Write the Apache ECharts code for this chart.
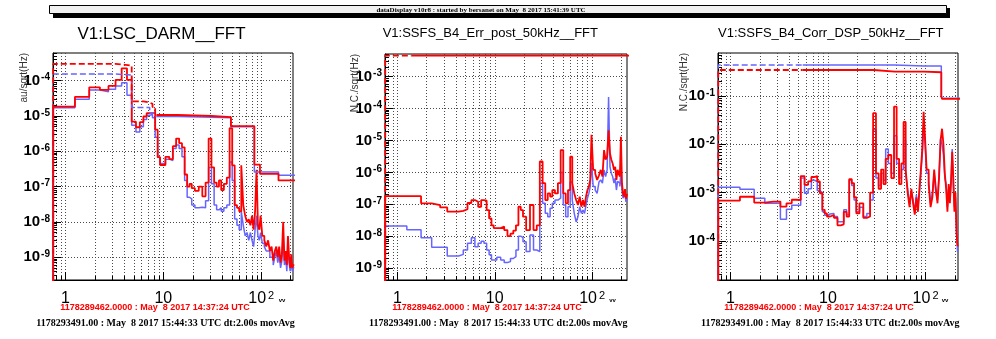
<!DOCTYPE html>
<html><head><meta charset="utf-8">
<script src="https://cdn.jsdelivr.net/npm/echarts@6/dist/echarts.min.js"></script>
<style>html,body{margin:0;padding:0;background:#fff}#c{width:996px;height:339px}</style>
</head><body><div id="c"></div>
<script>
// ---- frequency bins (Hz) shared by all spectra ----
const freqs = [0.5,1,1.5,2,2.5,3,3.5,4,4.5,5,
  5.5,6,6.5,7,7.5,8,8.5,9,9.5,10,
  11,12,13,14,15,16,17,18,19,20,
  22,24,26,28,30,32,34,36,38,40,
  43,46,49,52,55,58,61,64,67,70,
  73,76,79,82,85,88,91,94,97,100,
  105,110,115,120,125,130,135,140,145,150,
  155,160,165,170,175,180,185,190,195,200,
  205,210,215,220,225,230];

// ---- V1:LSC_DARM__FFT (au/sqrt(Hz)) ----
const darmRed = [1e-12,1.84e-5,3.5e-5,6.5e-5,5.5e-5,7.1e-5,1.05e-4,2.25e-4,1.05e-4,6.9e-6,
  4.8e-6,6.7e-6,9.7e-6,1.2e-5,1.2e-5,1.2e-5,4.1e-6,6.8e-7,4.1e-7,4.1e-7,
  7e-7,6e-7,1.4e-6,2.3e-6,1.7e-6,1.3e-6,2.2e-7,1e-7,1.2e-7,9e-8,
  7.6e-8,1e-7,5.3e-8,1.3e-7,2.3e-6,3.5e-7,1.3e-7,1e-7,1.5e-7,8e-8,
  1.2e-7,1.8e-7,4.5e-6,4e-7,3e-8,2.5e-8,2e-8,4e-7,3e-8,1.5e-8,
  1e-8,1.2e-8,8e-9,1.5e-8,6e-9,2e-8,3e-7,8e-9,6e-9,1.5e-8,
  4e-9,3e-9,2e-9,3e-9,1.5e-9,2e-9,8e-10,1.5e-9,2e-9,1e-9,
  2e-9,7e-10,1.2e-9,1e-8,8e-10,1.5e-9,6e-10,4e-9,1e-9,5e-10,
  1.2e-9,5e-10,6e-10];
const darmBlue = [1e-12,1.72e-5,3.0e-5,5.45e-5,4.9e-5,5.7e-5,7.1e-5,8.8e-5,3.9e-5,5.5e-6,
  3.5e-6,5e-6,8e-6,1.05e-5,1.1e-5,9e-6,2.5e-6,6.8e-7,4.5e-7,4.5e-7,
  6e-7,5.5e-7,1.2e-6,1.5e-6,1.2e-6,7e-7,1.5e-7,5e-8,4.5e-8,3e-8,
  2.5e-8,2.6e-8,2.5e-8,4e-8,3.5e-7,1.2e-7,3e-8,2.2e-8,2.5e-8,2e-8,
  2.5e-8,3e-8,5e-7,1.5e-7,1.2e-8,8e-9,6e-9,2e-8,8e-9,4e-9,
  5e-9,3e-9,5e-9,3e-9,2e-9,6e-9,1.5e-8,4e-9,3e-9,5e-9,
  2.5e-9,2e-9,1.5e-9,1.5e-9,1e-9,1e-9,6e-10,1e-9,1.5e-9,7e-10,
  1.2e-9,5e-10,8e-10,4e-9,6e-10,1e-9,4e-10,2e-9,7e-10,4e-10,
  8e-10,4e-10,5e-10];
const darmRmsFreq = [0.5,0.75,3.25,4.75,6.25,7.25,7.75,8.25,14,31,49,85,97,150,240];
const darmRmsRed  = [1e-12,3.0e-4,2.7e-4,2.6e-5,2.4e-5,2.2e-5,1.8e-5,1.07e-5,1.0e-5,9.3e-6,5.2e-6,4.2e-7,2.3e-7,1.5e-7,1.5e-7];
const darmRmsBlue = [1e-12,1.55e-4,1.45e-4,1.75e-5,1.75e-5,1.2e-5,1.2e-5,9.7e-6,9.3e-6,9.0e-6,5.0e-6,2.6e-7,2.6e-7,2.1e-7,2.1e-7];

// ---- V1:SSFS_B4_Err_post_50kHz__FFT (N.C./sqrt(Hz)) ----
const errRed = [1e-12,1.8e-7,1.8e-7,1.07e-7,9.5e-8,8e-8,5.9e-8,5.9e-8,6.2e-8,7e-8,
  1.1e-7,1.36e-7,1.2e-7,8.4e-8,1.36e-7,1.3e-7,6.6e-8,3.6e-8,2.2e-8,1.8e-8,
  1.8e-8,2e-8,1.56e-8,1e-8,1.2e-8,1.5e-8,2.2e-8,8.4e-8,6.6e-8,4.1e-8,
  1.56e-8,9.5e-8,1.56e-8,2.2e-8,2.2e-6,4.6e-7,1.36e-7,2.2e-7,1.75e-7,2.8e-7,
  2.2e-7,4.6e-7,5e-6,2.2e-7,1.07e-7,2.8e-7,3.1e-6,4.6e-7,2.2e-7,1.36e-7,
  9.5e-8,1.75e-7,8.4e-8,1.36e-7,8.4e-8,1.75e-7,2.8e-7,3.6e-7,5.8e-7,1.5e-5,
  1.2e-6,9.3e-7,5.8e-7,8e-7,1.2e-6,7.4e-7,5e-6,2.5e-6,3.1e-6,2.1e-5,
  3.9e-6,2.5e-6,1.9e-6,1.2e-6,1.5e-6,5.8e-7,1.2e-6,9.3e-7,7.4e-7,1.3e-5,
  4.6e-7,2.2e-7,1.75e-7,3e-7,1.5e-7,2e-7];
const errBlue = [1e-12,2.1e-8,1.6e-8,9e-9,4.5e-9,4.5e-9,2.4e-9,2.4e-9,2.7e-9,3.7e-9,
  6e-9,9e-9,4.7e-9,6e-9,7e-9,6e-9,3.7e-9,2.6e-9,1.8e-9,1.8e-9,
  2.2e-9,1.8e-9,1.5e-9,1.6e-9,2e-9,2.3e-9,3.7e-9,1e-8,9e-9,6.7e-9,
  3.3e-9,1.1e-8,3.7e-9,3.3e-9,4.6e-7,1.07e-7,5.2e-8,4.1e-8,7.5e-8,1.07e-7,
  1.36e-7,1.55e-7,1e-6,9.5e-8,4.1e-8,8.4e-8,5e-7,1.36e-7,5.2e-8,2.8e-8,
  4.1e-8,8.4e-8,5.2e-8,6.6e-8,5.2e-8,9.5e-8,1.55e-7,2.2e-7,3.6e-7,2e-6,
  3.6e-7,2.8e-7,2.2e-7,5e-7,5.8e-7,4.6e-7,1.2e-6,7.4e-7,1.2e-6,2.3e-4,
  1.5e-6,9.3e-7,7.4e-7,4.6e-7,6.6e-7,2.8e-7,5.2e-7,4.6e-7,3.6e-7,1e-6,
  2.8e-7,1.55e-7,1.36e-7,2e-7,1.2e-7,1.5e-7];
const errRmsFreq = [0.5,0.75,240];
const errRmsRed  = [1e-12,4.6e-3,4.6e-3];

// ---- V1:SSFS_B4_Corr_DSP_50kHz__FFT (N.C./sqrt(Hz)) ----
const corrRed = [1e-12,6.8e-4,8.2e-4,6.2e-4,6.5e-4,6.5e-4,5.1e-4,6e-4,7.1e-4,7e-4,
  2.2e-3,1.45e-3,1.7e-3,2.1e-3,2.2e-3,1.7e-3,9.7e-4,4.4e-4,3.7e-4,3.2e-4,
  3.4e-4,3e-4,2.1e-4,2.2e-4,4e-4,3.2e-4,1.9e-3,1.56e-3,8e-4,3.7e-4,
  6e-4,3e-4,3.2e-4,1e-3,0.044,2.5e-3,1.2e-3,3e-3,1.5e-3,5e-3,
  6e-3,2e-3,0.06,5e-3,1.5e-3,4e-3,0.029,3e-3,1e-3,5e-4,
  1.2e-3,6e-4,3.5e-4,8e-4,4e-4,1.2e-3,3e-3,8e-3,0.047,0.015,
  3e-3,1.5e-3,5e-4,8e-4,3e-3,1.2e-3,6e-4,2e-3,0.012,0.021,
  0.01,2.5e-3,1.2e-3,4e-4,1.5e-3,6e-4,1.8e-3,7e-3,2e-3,4e-4,
  1e-3,1.5e-4,8e-5];
const corrBlue = [1e-12,1.29e-3,1.17e-3,7.6e-4,6e-4,6e-4,2.8e-4,4.5e-4,5.5e-4,5.5e-4,
  2e-3,9.7e-4,1.2e-3,1.8e-3,1.7e-3,1.1e-3,1e-3,4e-4,3.4e-4,3.6e-4,
  3.7e-4,3.2e-4,2.5e-4,2.5e-4,4.4e-4,3.5e-4,1.8e-3,1.4e-3,7e-4,4e-4,
  5e-4,3.2e-4,3.7e-4,7e-4,0.02,2e-3,1.4e-3,2.5e-3,1.8e-3,8e-3,
  4e-3,2.5e-3,0.015,4e-3,2e-3,3e-3,0.012,2.5e-3,1.2e-3,6e-4,
  1e-3,7e-4,4e-4,9e-4,5e-4,1e-3,2.5e-3,6e-3,0.02,0.012,
  2.5e-3,1.8e-3,6e-4,1e-3,2.5e-3,1e-3,7e-4,2.5e-3,0.013,0.01,
  6e-3,2e-3,1.5e-3,5e-4,1.2e-3,7e-4,1.5e-3,8e-3,1.5e-3,5e-4,
  8e-4,2e-4,6e-5];
const corrRmsFreq = [0.5,0.75,29.5,48.5,96,145,147.5,240];
const corrRmsRed  = [1e-12,0.345,0.32,0.32,0.31,0.098,0.087,0.087];
const corrRmsBlue = [1e-12,0.44,0.44,0.42,0.42,0.1,0.09,0.09];

// ---- tick values / labels ----
const xMajorTicks = [1, 10, 100];
const tickDecades = [1e-10,1e-9,1e-8,1e-7,1e-6,1e-5,1e-4,1e-3,1e-2,1e-1,1,10,100];
const minorMultipliers = [1,2,3,4,5,6,7,8,9];

const titles = ['V1:LSC_DARM__FFT','V1:SSFS_B4_Err_post_50kHz__FFT','V1:SSFS_B4_Corr_DSP_50kHz__FFT'];
const unitLabels = ['au/sqrt(Hz)','N.C./sqrt(Hz)','N.C./sqrt(Hz)'];
const refTimeText = '1178289462.0000 : May  8 2017 14:37:24 UTC';
const curTimeText = '1178293491.00 : May  8 2017 15:44:33 UTC dt:2.00s movAvg';
const headerText = 'dataDisplay v10r8 : started by bersanet on May  8 2017 15:41:39 UTC';

// ---------------- build ----------------
const SANS = '"Liberation Sans", Arial, Helvetica, sans-serif';
const SERIF = '"Liberation Serif", "Times New Roman", serif';
const minorTicks = [];
tickDecades.forEach(d => minorMultipliers.forEach(m => minorTicks.push(+(d*m).toPrecision(3))));
const yMinorTicks = [];
tickDecades.forEach(d => minorMultipliers.slice(1).forEach(m => yMinorTicks.push(+(d*m).toPrecision(3))));

function stepData(f, v) {
  const out = [], n = v.length;
  for (let i = 0; i < n; i++) {
    const left = i === 0 ? f[0] - (f[1] - f[0]) / 2 : (f[i - 1] + f[i]) / 2;
    out.push([left, v[i]]);
  }
  out.push([f[n - 1] + (f[n - 1] - f[n - 2]) / 2, v[n - 1]]);
  return out;
}
function splitAt(f, v, c) {
  const lo = [], hi = [];
  let curLo = null, curHi = null;
  for (let i = 0; i < f.length; i++) {
    if (f[i] < c) { lo.push([f[i], v[i]]); curLo = v[i]; }
    if (f[i] <= c) curHi = v[i];
  }
  lo.push([c, curLo]);
  hi.push([c, curHi]);
  for (let i = 0; i < f.length; i++) if (f[i] > c) hi.push([f[i], v[i]]);
  return [lo, hi];
}
function supLabel(v) {
  const e = Math.round(Math.log10(v));
  if (e === 0) return '{a|1}';
  if (e === 1) return '{a|10}';
  return '{a|10}{s|' + e + '}';
}

const panels = [
  {grid:{left:53,top:53,width:240,height:227}, xr:[0.746,211], yr:[2.26e-10,6.1e-4],
   red:darmRed, blue:darmBlue, rmsF:darmRmsFreq, rmsRed:darmRmsRed, rmsBlue:darmRmsBlue, cut:8.5,
   title:{x:161.5,y:34,size:17}, unitX:24, refX:155, curX:165.5, markX:282},
  {grid:{left:385,top:54,width:242,height:226}, xr:[0.746,228], yr:[4.24e-10,5.15e-3],
   red:errRed, blue:errBlue, rmsF:errRmsFreq, rmsRed:errRmsRed, rmsBlue:null, cut:1.4,
   title:{x:490.3,y:33.5,size:13}, unitX:355.7, refX:487, curX:498.3, markX:612.5},
  {grid:{left:718,top:53,width:240,height:227}, xr:[0.745,215], yr:[1.55e-5,0.776],
   red:corrRed, blue:corrBlue, rmsF:corrRmsFreq, rmsRed:corrRmsRed, rmsBlue:corrRmsBlue, cut:5.5,
   title:{x:830.8,y:33.5,size:13}, unitX:684, refX:819, curX:830.3, markX:945}
];

const grids = [], xAxes = [], yAxes = [], series = [], graphics = [];
const dotted = {show:true, lineStyle:{color:'#4a4a4a', width:1, type:[1,2]}};
const RED = '#ff0000', BLUE = '#6666ff';

panels.forEach((p, i) => {
  grids.push(Object.assign({show:true, borderColor:'#000', borderWidth:1, backgroundColor:'transparent', containLabel:false, outerBoundsMode:'none'}, p.grid));
  xAxes.push({type:'log', gridIndex:i, min:p.xr[0], max:p.xr[1], position:'bottom',
    axisLine:{show:true, lineStyle:{color:'#000', width:1}},
    axisTick:{show:true, inside:true, length:4, customValues:minorTicks, lineStyle:{color:'#000'}},
    splitLine:dotted, minorTick:{show:false}, minorSplitLine:{show:false},
    axisLabel:{show:true, customValues:xMajorTicks, margin:10, formatter:supLabel, color:'#000',
      rich:{a:{fontSize:16, fontFamily:SANS, color:'#000', lineHeight:17},
            s:{fontSize:11, fontFamily:SANS, color:'#000', verticalAlign:'top', padding:[0,0,0,2]}}}});
  xAxes.push({type:'log', gridIndex:i, min:p.xr[0], max:p.xr[1], position:'bottom',
    axisLine:{show:false}, axisTick:{show:true, inside:true, length:8, customValues:xMajorTicks, lineStyle:{color:'#000'}},
    splitLine:{show:false}, axisLabel:{show:false}});
  yAxes.push({type:'log', gridIndex:i, min:p.yr[0], max:p.yr[1], position:'left',
    axisLine:{show:true, lineStyle:{color:'#000', width:1}},
    axisTick:{show:true, inside:true, length:8, customValues:tickDecades, lineStyle:{color:'#000'}},
    splitLine:dotted, minorTick:{show:false}, minorSplitLine:{show:false},
    axisLabel:{show:true, customValues:tickDecades, margin:3, formatter:supLabel, color:'#000',
      rich:{a:{fontSize:15, fontWeight:'bold', fontFamily:SANS, color:'#000', lineHeight:16},
            s:{fontSize:10, fontWeight:'bold', fontFamily:SANS, color:'#000', verticalAlign:'top', padding:[0,0,0,1]}}}});
  yAxes.push({type:'log', gridIndex:i, min:p.yr[0], max:p.yr[1], position:'left',
    axisLine:{show:false}, axisTick:{show:true, inside:true, length:4, customValues:yMinorTicks, lineStyle:{color:'#000'}},
    splitLine:{show:false}, axisLabel:{show:false}});

  const xi = 2 * i, yi = 2 * i;
  const base = {type:'line', xAxisIndex:xi, yAxisIndex:yi, step:'end', showSymbol:false, symbol:'none', silent:true, animation:false, emphasis:{disabled:true}};
  series.push(Object.assign({}, base, {data:stepData(freqs, p.blue), lineStyle:{color:BLUE, width:1.5}, z:2}));
  series.push(Object.assign({}, base, {data:stepData(freqs, p.red), lineStyle:{color:RED, width:1.8}, z:3}));
  if (p.rmsBlue) {
    const [lo, hi] = splitAt(p.rmsF, p.rmsBlue, p.cut);
    series.push(Object.assign({}, base, {data:lo, lineStyle:{color:BLUE, width:1.5, type:[6,3]}, z:4}));
    series.push(Object.assign({}, base, {data:hi, lineStyle:{color:BLUE, width:1.5}, z:4}));
  }
  const [lo, hi] = splitAt(p.rmsF, p.rmsRed, p.cut);
  series.push(Object.assign({}, base, {data:lo, lineStyle:{color:RED, width:1.8, type:[6,3]}, z:5}));
  series.push(Object.assign({}, base, {data:hi, lineStyle:{color:RED, width:1.8}, z:5}));

  graphics.push({type:'text', x:p.title.x, y:p.title.y, z:10,
    style:{text:titles[i], font:p.title.size + 'px ' + SANS, fill:'#000', align:'center', verticalAlign:'middle', textAlign:'center', textVerticalAlign:'middle'}});
  graphics.push({type:'text', x:p.unitX, y:p.grid.top, rotation:Math.PI/2, z:10,
    style:{text:unitLabels[i], font:'10px ' + SANS, fill:'#333', align:'right', verticalAlign:'middle', textAlign:'right', textVerticalAlign:'middle'}});
  graphics.push({type:'text', x:p.refX, y:307.5, z:10,
    style:{text:refTimeText, font:'bold 9px ' + SANS, fill:'#ff0000', align:'center', verticalAlign:'middle', textAlign:'center', textVerticalAlign:'middle'}});
  graphics.push({type:'text', x:p.curX, y:323, z:10,
    style:{text:curTimeText, font:'bold 10px ' + SERIF, fill:'#000', align:'center', verticalAlign:'middle', textAlign:'center', textVerticalAlign:'middle'}});
  graphics.push({type:'text', x:p.markX, y:300, z:10,
    style:{text:'vv', font:'bold 6px ' + SANS, fill:'#000', align:'center', verticalAlign:'middle', textAlign:'center', textVerticalAlign:'middle'}});
});

graphics.push({type:'rect', z:9, shape:{x:53, y:8, width:897, height:10}, style:{fill:'#000'}});
graphics.push({type:'rect', z:10, shape:{x:49.5, y:5.5, width:897, height:8}, style:{fill:'#f0f0f0', stroke:'#000', lineWidth:1}});
graphics.push({type:'text', x:481, y:9.7, z:11,
  style:{text:headerText, font:'bold 7px ' + SERIF, fill:'#000', align:'center', verticalAlign:'middle', textAlign:'center', textVerticalAlign:'middle'}});

const chart = echarts.init(document.getElementById('c'), null, {renderer:'canvas'});
chart.setOption({
  animation:false,
  backgroundColor:'#fff',
  grid:grids, xAxis:xAxes, yAxis:yAxes, series:series,
  graphic:{elements:graphics}
});
</script></body></html>
